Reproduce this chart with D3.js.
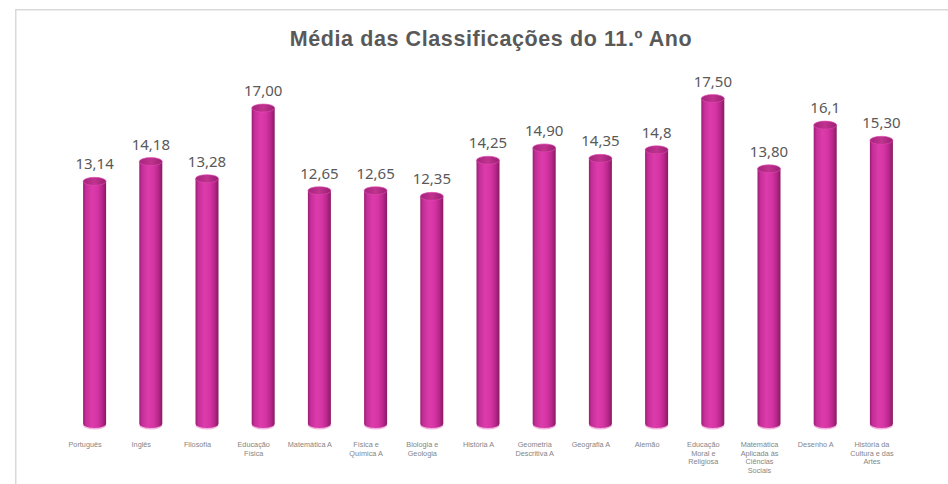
<!DOCTYPE html>
<html>
<head>
<meta charset="utf-8">
<script src="https://cdn.jsdelivr.net/npm/d3@7"></script>
<style>
  html, body { margin: 0; padding: 0; background: #fff; }
  svg { display: block; }
</style>
</head>
<body>
<div id="chart"></div>
<script>
var width = 948,
  height = 484;

// categories (line breaks as in the original axis)
var categories = [
  ['Português'],
  ['Inglês'],
  ['Filosofia'],
  ['Educação', 'Física'],
  ['Matemática A'],
  ['Física e', 'Química A'],
  ['Biologia e', 'Geologia'],
  ['História A'],
  ['Geometria', 'Descritiva A'],
  ['Geografia A'],
  ['Alemão'],
  ['Educação', 'Moral e', 'Religiosa'],
  ['Matemática', 'Aplicada às', 'Ciências', 'Sociais'],
  ['Desenho A'],
  ['História da', 'Cultura e das', 'Artes']
];
var values = [13.14, 14.18, 13.28, 17.00, 12.65, 12.65, 12.35, 14.25, 14.90, 14.35, 14.8, 17.50, 13.80, 16.1, 15.30];
var valueLabels = ['13,14', '14,18', '13,28', '17,00', '12,65', '12,65', '12,35', '14,25', '14,90', '14,35', '14,8', '17,50', '13,80', '16,1', '15,30'];

var names = categories.map(function(c) { return c.join(' '); });

var svg = d3.select('#chart').append('svg')
  .attr('width', width)
  .attr('height', height);

// chart frame
svg.append('rect')
  .attr('x', 15.75).attr('y', 9.75)
  .attr('width', 1000).attr('height', 1000)
  .attr('fill', 'none')
  .attr('stroke', '#d9d9d9')
  .attr('stroke-width', 1.5);

var x = d3.scaleBand()
  .domain(names)
  .range([57, 900]);

var y = d3.scaleLinear()
  .domain([0, 20])
  .range([431, 51]);

var floorY = 424,
  barW = 23,
  ry = 4,
  shift = 9.5; // 3D perspective offset of the bars vs. labels

var defs = svg.append('defs');
var bodyGrad = defs.append('linearGradient').attr('id', 'cylBody')
  .attr('x1', '0%').attr('x2', '100%').attr('y1', '0%').attr('y2', '0%');
[[0, '#9a1c72'], [0.12, '#c42e98'], [0.38, '#dc3cab'], [0.62, '#d634a4'], [0.82, '#b8288b'], [1, '#8a1964']]
  .forEach(function(s) { bodyGrad.append('stop').attr('offset', s[0]).attr('stop-color', s[1]); });
var topGrad = defs.append('linearGradient').attr('id', 'cylTop')
  .attr('x1', '0%').attr('x2', '100%').attr('y1', '0%').attr('y2', '0%');
[[0, '#a5237c'], [0.5, '#c0338f'], [1, '#9a1f73']]
  .forEach(function(s) { topGrad.append('stop').attr('offset', s[0]).attr('stop-color', s[1]); });

var bars = svg.append('g').selectAll('g')
  .data(values)
  .enter().append('g')
  .attr('transform', function(d, i) {
    return 'translate(' + (x(names[i]) + x.bandwidth() / 2 + shift) + ',0)';
  });

// floor reflection
bars.append('ellipse')
  .attr('cx', 0).attr('cy', floorY + 1.5)
  .attr('rx', barW / 2).attr('ry', ry)
  .attr('fill', '#f2b3df');

bars.append('path')
  .attr('d', function(d) {
    var t = y(d), h = barW / 2;
    return 'M' + (-h) + ',' + t +
      'L' + (-h) + ',' + floorY +
      'A' + h + ',' + ry + ' 0 0 0 ' + h + ',' + floorY +
      'L' + h + ',' + t + 'Z';
  })
  .attr('fill', 'url(#cylBody)');

bars.append('ellipse')
  .attr('cx', 0).attr('cy', function(d) { return y(d); })
  .attr('rx', barW / 2).attr('ry', ry)
  .attr('fill', 'url(#cylTop)')
  .attr('stroke', '#e04cb0')
  .attr('stroke-width', 0.6);

bars.append('text')
  .attr('x', 0)
  .attr('y', function(d) { return y(d) - ry - 8; })
  .attr('text-anchor', 'middle')
  .attr('font-family', '"Noto Sans", sans-serif')
  .attr('font-size', 15)
  .attr('fill', '#595959')
  .text(function(d, i) { return valueLabels[i]; });

// category axis labels
var xAxis = svg.append('g');
xAxis.selectAll('text')
  .data(categories)
  .enter().append('text')
  .attr('x', function(d, i) { return x(names[i]) + x.bandwidth() / 2; })
  .attr('y', 447)
  .attr('text-anchor', 'middle')
  .attr('font-family', '"Liberation Sans", Arial, sans-serif')
  .attr('font-size', 7.3)
  .attr('fill', '#858585')
  .each(function(d) {
    var t = d3.select(this);
    d.forEach(function(line, k) {
      t.append('tspan')
        .attr('x', t.attr('x'))
        .attr('dy', k === 0 ? 0 : 8.7)
        .text(line);
    });
  });

svg.append('text')
  .attr('x', 491)
  .attr('y', 46)
  .attr('text-anchor', 'middle')
  .attr('font-family', '"Liberation Sans", Arial, sans-serif')
  .attr('font-weight', 'bold')
  .attr('font-size', 21.5)
  .attr('letter-spacing', 0.6)
  .attr('fill', '#595959')
  .text('Média das Classificações do 11.º Ano');
</script>
</body>
</html>
